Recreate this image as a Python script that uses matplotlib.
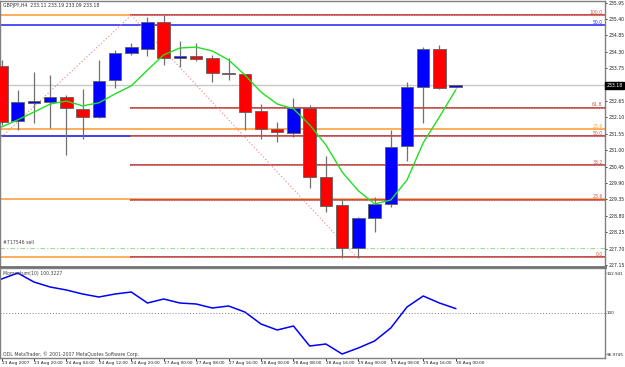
import numpy as np
import matplotlib.pyplot as plt
import matplotlib.transforms as mtransforms

# GBPJPY H4 candles
opens = [233.83, 231.98, 232.59, 232.62, 232.79, 232.39, 232.12, 233.36, 234.26, 234.40,
         235.30, 234.10, 234.16, 234.10, 233.59, 233.56, 232.32, 231.71, 231.58, 232.42,
         230.10, 229.17, 227.72, 228.73, 229.20, 231.14, 233.12, 234.40, 233.11]
highs = [234.03, 233.02, 233.63, 233.53, 232.85, 233.06, 234.03, 234.36, 234.60, 235.47,
         235.54, 234.67, 234.60, 234.20, 234.10, 233.56, 232.55, 231.95, 232.75, 232.52,
         230.81, 229.37, 228.76, 229.43, 231.68, 233.29, 234.46, 234.53, 233.19]
lows = [231.85, 231.68, 231.92, 231.75, 230.84, 231.38, 232.08, 233.09, 234.20, 234.16,
        233.86, 233.79, 234.00, 233.29, 233.36, 231.68, 231.38, 231.28, 231.45, 229.74,
        228.93, 227.39, 227.39, 228.26, 229.10, 230.64, 231.92, 233.06, 233.09]
closes = [231.95, 232.62, 232.65, 232.79, 232.42, 232.12, 233.32, 234.26, 234.46, 235.30,
          234.10, 234.16, 234.06, 233.59, 233.56, 232.29, 231.71, 231.61, 232.42, 230.10,
          229.13, 227.72, 228.73, 229.20, 231.11, 233.12, 234.40, 233.09, 233.18]
ma = [231.78, 232.02, 232.28, 232.55, 232.65, 232.49, 232.59, 232.89, 233.16, 233.69,
      234.20, 234.43, 234.46, 234.33, 234.03, 233.53, 232.95, 232.55, 232.39, 231.85,
      231.18, 230.27, 229.64, 229.20, 229.33, 230.00, 231.25, 232.12, 233.02]
momentum = [102.499, 102.941, 102.278, 101.910, 101.689, 101.394, 101.173, 101.394, 101.541, 100.731,
            101.026, 100.731, 100.658, 100.363, 100.510, 100.068, 99.184, 98.743, 99.037, 97.564,
            97.711, 96.9745, 97.417, 97.932, 98.890, 100.437, 101.247, 100.731, 100.3227]

date_labels = ['23 Aug 2007', '23 Aug 20:00', '24 Aug 04:00', '24 Aug 12:00', '24 Aug 20:00',
               '27 Aug 00:00', '27 Aug 08:00', '27 Aug 16:00', '28 Aug 00:00', '28 Aug 08:00',
               '28 Aug 16:00', '29 Aug 00:00', '29 Aug 08:00', '29 Aug 16:00', '30 Aug 00:00']
price_ticks = [235.95, 235.40, 234.85, 234.30, 233.75, 232.65, 232.10, 231.55, 231.00,
               230.45, 229.90, 229.35, 228.80, 228.25, 227.70, 227.15]

# red fibo retracement (starts at bar 8)
fib_prices = [235.53, 232.42, 231.47, 230.50, 229.33, 227.41]
fib_labels = ['100.0', '61.8', '50.0', '38.2', '23.6', '0.0']
# user lines: price, colour, label
hlines = [(235.53, '#ffa040', None), (235.19, '#3030ff', '50.0'), (231.70, '#ffa040', '23.6'),
          (231.47, '#2020e0', None), (229.35, '#ffa040', None), (227.41, '#ffa040', None)]
trend_up = ([0.0, 8.0], [231.44, 235.53])
trend_down = ([8.0, 21.9], [235.53, 227.41])
order_price = 227.72
last_price = 233.18

W, H = 625, 367
fig = plt.figure(figsize=(W / 100, H / 100), dpi=100)
fig.patch.set_facecolor('white')

def box(x0, y0, x1, y1):
    return [x0 / W, 1 - y1 / H, (x1 - x0) / W, (y1 - y0) / H]

ax = fig.add_axes(box(0, 1, 605, 267))
ax2 = fig.add_axes(box(0, 268, 605, 358), sharex=ax)

n = len(opens)
x = np.arange(n)
step = 16.22
ax.set_xlim(-1.5 / step, (605 - 1.5) / step)
ax.set_ylim(227.083, 236.007)

fs = 3.3
gray = '#808080'
rtrans = mtransforms.blended_transform_factory(ax.transAxes, ax.transData)

# horizontal lines
for p, c, lab in hlines:
    ax.axhline(p, color=c, lw=1.2, zorder=1)
    if lab:
        ax.text(0.996, p + 0.02, lab, transform=rtrans, ha='right', va='bottom', fontsize=fs, color=c)
for p, lab in zip(fib_prices, fib_labels):
    ax.plot([8.0, 40], [p, p], color='#c05050', lw=1.4, zorder=1.5)
    ax.plot([8.0, 40], [p, p], color='#f0a0a0', lw=0.6, ls=(0, (1, 1)), zorder=1.6)
    ax.text(0.996, p + 0.02, lab, transform=rtrans, ha='right', va='bottom', fontsize=fs, color='#c06040')
ax.axhline(last_price, color='#c8c8c8', lw=1.0, zorder=1)
ax.axhline(order_price, color='#90e090', lw=0.8, ls=(0, (4, 2, 1, 2)), zorder=1)
ax.plot(*trend_up, color='#f08080', lw=0.8, ls=(0, (1, 2)), zorder=1.7)
ax.plot(*trend_down, color='#f08080', lw=0.8, ls=(0, (1, 2)), zorder=1.7)

# candles
for i in range(n):
    up = closes[i] >= opens[i]
    col = '#0000ff' if up else '#ff0000'
    ax.vlines(x[i], lows[i], highs[i], color='#707070', lw=0.9, zorder=2)
    lo, hi = min(opens[i], closes[i]), max(opens[i], closes[i])
    ax.bar(x[i], max(hi - lo, 0.02), bottom=lo, width=0.77, color=col,
           edgecolor='#606060', linewidth=0.6, zorder=3)

ax.plot(x, ma, color='#20e020', lw=1.0, zorder=4)

# axis styling
for a in (ax, ax2):
    a.set_facecolor('white')
    for s in a.spines.values():
        s.set_color(gray)
        s.set_linewidth(1.0)
ax.spines['bottom'].set_linewidth(2.0)
ax.spines['bottom'].set_color('#707070')
ax.yaxis.tick_right()
ax.set_yticks(price_ticks)
ax.set_yticklabels(['%.2f' % v for v in price_ticks])
ax.tick_params(axis='y', labelsize=fs, length=1.5, pad=0.8, colors='#202020', width=0.6)
ax.tick_params(axis='x', bottom=False, labelbottom=False)

ax.text(1.002, last_price, '%.2f' % last_price, transform=rtrans,
        ha='left', va='center', fontsize=fs, color='white',
        bbox=dict(boxstyle='square,pad=0.25', fc='black', ec='black'))

# momentum panel
ax2.set_ylim(96.68, 103.31)
ax2.plot(x, momentum, color='#0000ff', lw=1.1)
ax2.axhline(100, color=gray, lw=0.7, ls=(0, (1, 2)))
ax2.yaxis.tick_right()
ax2.set_yticks([102.941, 100, 96.9745])
ax2.set_yticklabels(['102.941', '100', '96.9745'])
ax2.tick_params(axis='y', labelsize=3.0, length=1.0, pad=0.5, colors='#202020', width=0.6)
ax2.set_xticks(np.arange(0, n, 2))
ax2.set_xticklabels(date_labels, ha='left')
ax2.tick_params(axis='x', labelsize=3.1, length=2, pad=0.5, colors='#202020', width=0.6)

# texts
def ftext(px, py, s, **kw):
    fig.text(px / W, 1 - py / H, s, fontsize=fs, va='center', ha='left', **kw)

ftext(3, 5, 'GBPJPY,H4  233.11 233.19 233.09 233.18', color='#303030')
ftext(3, 243, '#717546 sell', color='#404040')
ftext(3, 273, 'Momentum(10) 100.3227', color='#404040')
ftext(3, 354, 'ODL MetaTrader, \u00a9 2001-2007 MetaQuotes Software Corp.', color='#404040')

fig.savefig('out.png', dpi=100, facecolor='white')
